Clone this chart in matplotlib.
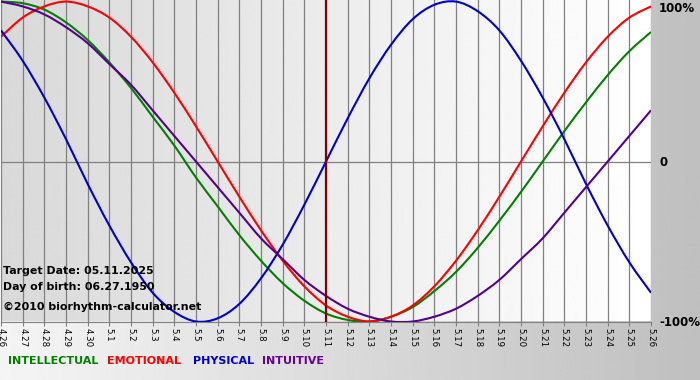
import matplotlib
matplotlib.use("Agg")
import matplotlib.pyplot as plt
import numpy as np
from matplotlib.path import Path
from matplotlib.patches import PathPatch

# day labels 4.26 .. 5.26
day_labels = ["4.26", "4.27", "4.28", "4.29", "4.30",
              "5.1", "5.2", "5.3", "5.4", "5.5", "5.6", "5.7", "5.8", "5.9", "5.10",
              "5.11", "5.12", "5.13", "5.14", "5.15", "5.16", "5.17", "5.18", "5.19", "5.20",
              "5.21", "5.22", "5.23", "5.24", "5.25", "5.26"]
target_idx = 15

physical = [0.82, 0.63, 0.40, 0.14, -0.14, -0.40, -0.63, -0.82, -0.94, -1.00, -0.98,
            -0.89, -0.73, -0.52, -0.27, 0.00, 0.27, 0.52, 0.73, 0.89, 0.98,
            1.00, 0.94, 0.82, 0.63, 0.40, 0.14, -0.14, -0.40, -0.63, -0.82]
emotional = [0.78, 0.90, 0.97, 1.00, 0.97, 0.90, 0.78, 0.62, 0.43, 0.22, 0.00,
             -0.22, -0.43, -0.62, -0.78, -0.90, -0.97, -1.00, -0.97, -0.90, -0.78,
             -0.62, -0.43, -0.22, 0.00, 0.22, 0.43, 0.62, 0.78, 0.90, 0.97]
intellectual = [1.00, 0.99, 0.95, 0.87, 0.76, 0.62, 0.46, 0.28, 0.10, -0.10, -0.28,
                -0.46, -0.62, -0.76, -0.87, -0.95, -0.99, -1.00, -0.97, -0.91, -0.81,
                -0.69, -0.54, -0.37, -0.19, 0.00, 0.19, 0.37, 0.54, 0.69, 0.81]
intuitive = [1.00, 0.97, 0.92, 0.84, 0.74, 0.61, 0.48, 0.32, 0.16, 0.00, -0.16,
             -0.32, -0.48, -0.61, -0.74, -0.84, -0.92, -0.97, -1.00, -1.00, -0.97,
             -0.92, -0.84, -0.74, -0.61, -0.48, -0.32, -0.16, 0.00, 0.16, 0.32]

series = [
    ("INTELLECTUAL", intellectual, "#008000"),
    ("EMOTIONAL", emotional, "#ff0000"),
    ("PHYSICAL", physical, "#0000cc"),
    ("INTUITIVE", intuitive, "#550088"),
]


def smooth_path(xs, ys):
    """Catmull-Rom style smoothed line through the points, as a bezier path."""
    pts = np.column_stack([xs, ys]).astype(float)
    ext = np.vstack([pts[0], pts, pts[-1]])
    verts = [pts[0]]
    codes = [Path.MOVETO]
    for i in range(len(pts) - 1):
        p0, p1, p2, p3 = ext[i], ext[i + 1], ext[i + 2], ext[i + 3]
        verts += [p1 + (p2 - p0) / 6, p2 - (p3 - p1) / 6, p2]
        codes += [Path.CURVE4] * 3
    return Path(verts, codes)


W, H = 700, 380
fig = plt.figure(figsize=(W / 100, H / 100), dpi=100)

# figure background gradient
bg = fig.add_axes([0, 0, 1, 1], zorder=0)
grad = np.linspace(0.96, 0.75, 256).reshape(1, -1)
bg.imshow(grad, cmap="gray", vmin=0, vmax=1, aspect="auto", extent=[0, 1, 0, 1])
bg.set_xlim(0, 1)
bg.set_ylim(0, 1)
bg.axis("off")

ax_left, ax_right = 1 / W, 651 / W
ax_bottom = (H - 321.5) / H
ax = fig.add_axes([ax_left, ax_bottom, ax_right - ax_left, 1 - ax_bottom], zorder=1)
ax.set_facecolor("none")

n = len(day_labels)
x = np.arange(n)
ax.set_xlim(0, n - 1)
ax.set_ylim(-1.0, 1.01)

pgrad = np.linspace(0.85, 1.0, 256).reshape(1, -1)
ax.imshow(pgrad, cmap="gray", vmin=0, vmax=1, aspect="auto",
          extent=[0, n - 1, -1.0, 1.01], zorder=0)

for xi in x:
    ax.axvline(xi, color="#808080", linewidth=0.9, zorder=1)
ax.axhline(0, color="#808080", linewidth=0.9, zorder=1)

for name, vals, col in series:
    ax.add_patch(PathPatch(smooth_path(x, vals), fill=False, edgecolor=col,
                           linewidth=1.5, zorder=3))

ax.axvline(target_idx, color="#800000", linewidth=1.6, zorder=4)

for s in ["top", "left", "right"]:
    ax.spines[s].set_visible(False)
ax.spines["bottom"].set_color("#808080")
ax.set_yticks([])
ax.set_xticks(x)
ax.set_xticklabels(day_labels, rotation=270, fontsize=6.2)
ax.tick_params(axis="x", length=3, color="#808080", pad=1.5)

# right side labels
fig.text(659 / W, 1 - 8 / H, "100%", fontsize=8.5, fontweight="bold", va="center", zorder=5)
fig.text(659 / W, 1 - 162 / H, "0", fontsize=8.5, fontweight="bold", va="center", zorder=5)
fig.text(659 / W, 1 - 322 / H, "-100%", fontsize=8.5, fontweight="bold", va="center", zorder=5)

# info texts
fig.text(3 / W, 1 - 271 / H, "Target Date: 05.11.2025", fontsize=7.9, fontweight="bold",
         va="center", zorder=5)
fig.text(3 / W, 1 - 287 / H, "Day of birth: 06.27.1950", fontsize=7.9, fontweight="bold",
         va="center", zorder=5)
fig.text(3 / W, 1 - 307 / H, "\u00a92010 biorhythm-calculator.net", fontsize=7.9,
         fontweight="bold", va="center", zorder=5)

# legend
legend_x = [8, 107, 193, 262]
for (name, vals, col), lx in zip(series, legend_x):
    lc = "#660099" if name == "INTUITIVE" else col
    fig.text(lx / W, 1 - 361 / H, name, fontsize=8.0, fontweight="bold", color=lc,
             va="center", zorder=5)

fig.savefig("out.png", dpi=100)
